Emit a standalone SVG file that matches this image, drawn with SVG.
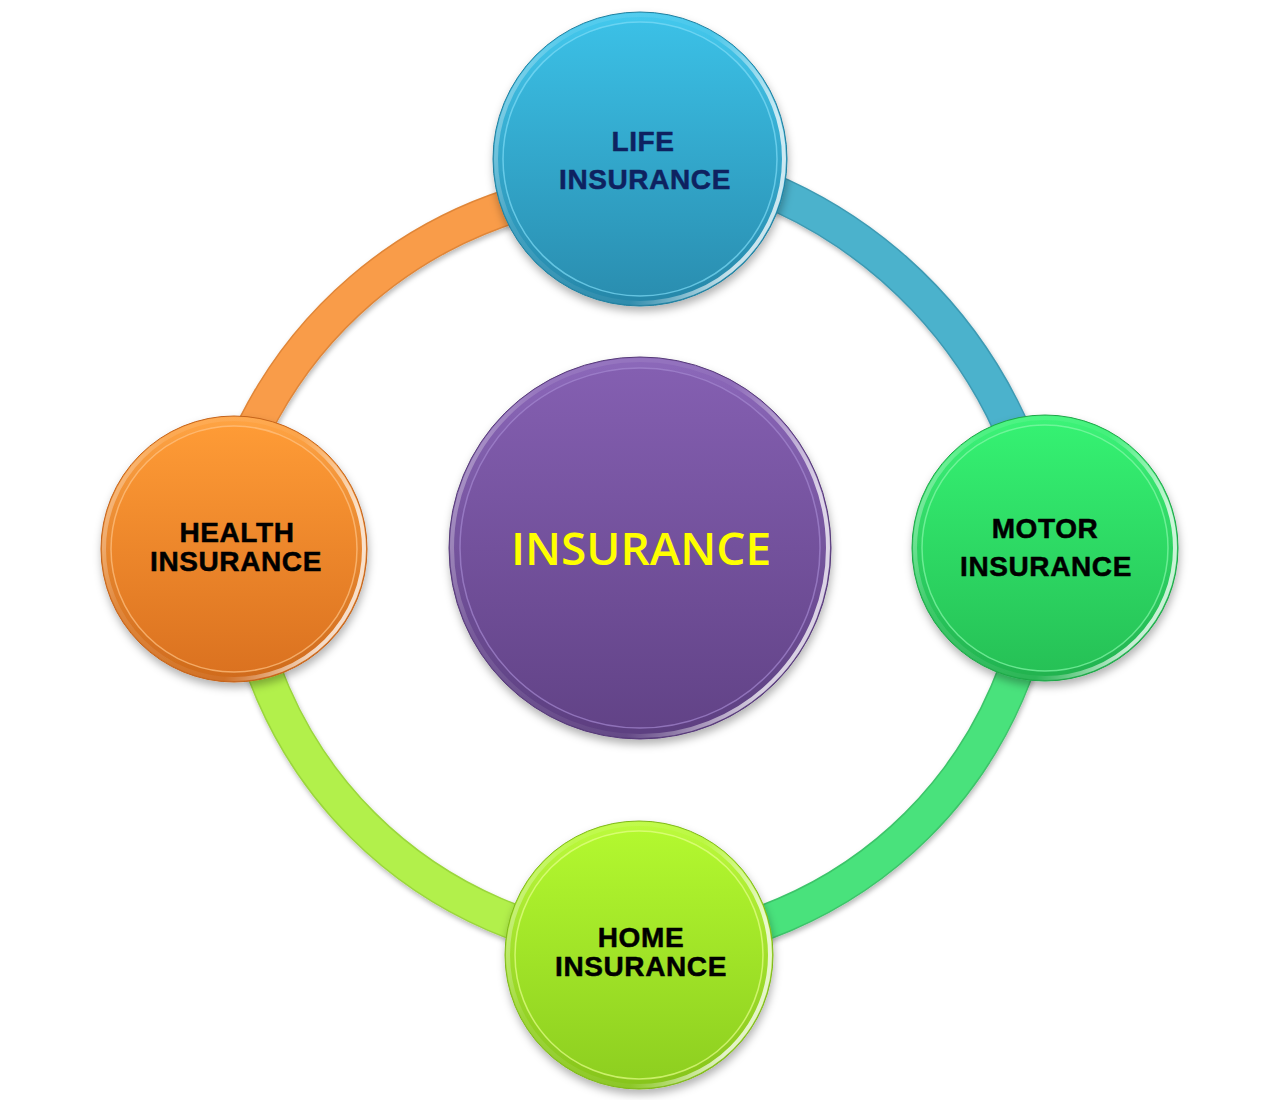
<svg xmlns="http://www.w3.org/2000/svg" width="1280" height="1100" viewBox="0 0 1280 1100">
  <defs>
    <filter id="sh" x="-20%" y="-20%" width="140%" height="140%">
      <feDropShadow dx="1" dy="5" stdDeviation="4" flood-color="#000" flood-opacity="0.3"/>
    </filter>
    <filter id="shr" x="-10%" y="-10%" width="120%" height="120%">
      <feDropShadow dx="1" dy="3" stdDeviation="2.5" flood-color="#000" flood-opacity="0.28"/>
    </filter>
    <linearGradient id="hi" x1="0" y1="0" x2="1" y2="0.3">
      <stop offset="0" stop-color="#fff" stop-opacity="0.5"/>
      <stop offset="0.25" stop-color="#fff" stop-opacity="0.1"/>
      <stop offset="0.7" stop-color="#fff" stop-opacity="0.05"/>
      <stop offset="1" stop-color="#fff" stop-opacity="0.75"/>
    </linearGradient>
    <linearGradient id="lifeFace" x1="0" y1="0" x2="0" y2="1">
      <stop offset="0" stop-color="#3bc0e6"/>
      <stop offset="1" stop-color="#2a8eb0"/>
    </linearGradient>
    <linearGradient id="lifeRim" x1="0" y1="0" x2="0" y2="1">
      <stop offset="0" stop-color="#44c9ee"/>
      <stop offset="1" stop-color="#2686a8"/>
    </linearGradient>
    <linearGradient id="cenFace" x1="0" y1="0" x2="0" y2="1">
      <stop offset="0" stop-color="#845fb1"/>
      <stop offset="1" stop-color="#624387"/>
    </linearGradient>
    <linearGradient id="cenRim" x1="0" y1="0" x2="0" y2="1">
      <stop offset="0" stop-color="#8c68ba"/>
      <stop offset="1" stop-color="#5c3f80"/>
    </linearGradient>
    <linearGradient id="motFace" x1="0" y1="0" x2="0" y2="1">
      <stop offset="0" stop-color="#35f172"/>
      <stop offset="1" stop-color="#26c156"/>
    </linearGradient>
    <linearGradient id="motRim" x1="0" y1="0" x2="0" y2="1">
      <stop offset="0" stop-color="#3cf478"/>
      <stop offset="1" stop-color="#22b24f"/>
    </linearGradient>
    <linearGradient id="heaFace" x1="0" y1="0" x2="0" y2="1">
      <stop offset="0" stop-color="#fe9b36"/>
      <stop offset="1" stop-color="#db7220"/>
    </linearGradient>
    <linearGradient id="heaRim" x1="0" y1="0" x2="0" y2="1">
      <stop offset="0" stop-color="#ffa444"/>
      <stop offset="1" stop-color="#cf6a1c"/>
    </linearGradient>
    <linearGradient id="homFace" x1="0" y1="0" x2="0" y2="1">
      <stop offset="0" stop-color="#b3f82f"/>
      <stop offset="1" stop-color="#8ecf20"/>
    </linearGradient>
    <linearGradient id="homRim" x1="0" y1="0" x2="0" y2="1">
      <stop offset="0" stop-color="#bcfb3c"/>
      <stop offset="1" stop-color="#86c41c"/>
    </linearGradient>
    <style>
      .lbl { font-family: "Liberation Sans", Arial, sans-serif; font-weight: 700; font-size: 28px; letter-spacing: 0.6px; text-anchor: middle; fill: #000; stroke: #000; stroke-width: 0.5px; }
      .life { fill: #0e2260; stroke: #0e2260; }
      .main { font-family: "Open Sans", "Liberation Sans", sans-serif; font-weight: 600; font-size: 46px; text-anchor: middle; fill: #ffff00; }
      .band-edge { fill: none; stroke-width: 36; }
      .band { fill: none; stroke-width: 33; }
      .hl { fill: none; stroke: url(#hi); stroke-width: 4; }
    </style>
  </defs>
  <rect width="1280" height="1100" fill="#ffffff"/>

  <g id="connectors" filter="url(#shr)">
    <path class="band-edge" stroke="#e08638" d="M 215 549 A 436 436 0 0 1 640 185"/>
    <path class="band" stroke="#f99c4a" d="M 215 549 A 436 436 0 0 1 640 185"/>
    <path class="band-edge" stroke="#3e9ab3" d="M 640 156 A 466 466 0 0 1 1047 548"/>
    <path class="band" stroke="#4bb2cc" d="M 640 156 A 466 466 0 0 1 1047 548"/>
    <path class="band-edge" stroke="#3cc46a" d="M 1041 548 A 423 423 0 0 1 639 948"/>
    <path class="band" stroke="#4ae27b" d="M 1041 548 A 423 423 0 0 1 639 948"/>
    <path class="band-edge" stroke="#9bd63c" d="M 639 948 A 423 423 0 0 1 239 549"/>
    <path class="band" stroke="#b2f04c" d="M 639 948 A 423 423 0 0 1 239 549"/>
  </g>

  <g id="node-center">
    <circle cx="640" cy="548" r="191" fill="url(#cenRim)" stroke="#563a78" stroke-width="1" filter="url(#sh)"/>
    <circle cx="640" cy="548" r="188" class="hl"/>
    <circle cx="640" cy="548" r="180" fill="url(#cenFace)" stroke="#a487d0" stroke-width="1.5" stroke-opacity="0.7"/>
    <text class="main" x="641" y="565">INSURANCE</text>
  </g>

  <g id="node-life">
    <circle cx="640" cy="159" r="147" fill="url(#lifeRim)" stroke="#21809f" stroke-width="1" filter="url(#sh)"/>
    <circle cx="640" cy="159" r="144" class="hl"/>
    <circle cx="640" cy="159" r="137" fill="url(#lifeFace)" stroke="#7ddcf6" stroke-width="1.5" stroke-opacity="0.7"/>
    <text class="lbl life" x="643" y="151">LIFE</text>
    <text class="lbl life" x="645" y="189">INSURANCE</text>
  </g>

  <g id="node-motor">
    <circle cx="1045" cy="548" r="133" fill="url(#motRim)" stroke="#1fa548" stroke-width="1" filter="url(#sh)"/>
    <circle cx="1045" cy="548" r="130" class="hl"/>
    <circle cx="1045" cy="548" r="123" fill="url(#motFace)" stroke="#86f8aa" stroke-width="1.5" stroke-opacity="0.7"/>
    <text class="lbl" x="1045" y="538">MOTOR</text>
    <text class="lbl" x="1046" y="576">INSURANCE</text>
  </g>

  <g id="node-health">
    <circle cx="234" cy="549" r="133" fill="url(#heaRim)" stroke="#c4631a" stroke-width="1" filter="url(#sh)"/>
    <circle cx="234" cy="549" r="130" class="hl"/>
    <circle cx="234" cy="549" r="123" fill="url(#heaFace)" stroke="#ffc385" stroke-width="1.5" stroke-opacity="0.7"/>
    <text class="lbl" x="237" y="542">HEALTH</text>
    <text class="lbl" x="236" y="571">INSURANCE</text>
  </g>

  <g id="node-home">
    <circle cx="639" cy="955" r="134" fill="url(#homRim)" stroke="#7fb81a" stroke-width="1" filter="url(#sh)"/>
    <circle cx="639" cy="955" r="131" class="hl"/>
    <circle cx="639" cy="955" r="124" fill="url(#homFace)" stroke="#e6ff8a" stroke-width="1.5" stroke-opacity="0.7"/>
    <text class="lbl" x="641" y="947">HOME</text>
    <text class="lbl" x="641" y="976">INSURANCE</text>
  </g>
</svg>
